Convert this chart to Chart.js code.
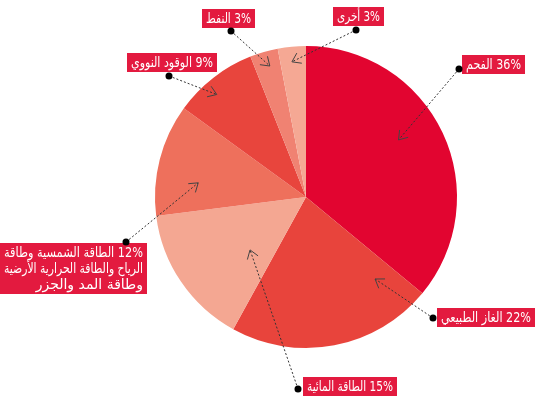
<!DOCTYPE html>
<html><head><meta charset="utf-8">
<script src="https://cdn.jsdelivr.net/npm/chart.js@4"></script>
<style>html,body{margin:0;padding:0;background:#fff;}#wrap{width:536px;height:397px;}</style>
</head><body><div id="wrap"><canvas id="c" width="536" height="397"></canvas></div>
<script>
// Data
const categories = ['الفحم','الغاز الطبيعي','الطاقة المائية','الطاقة الشمسية وطاقة الرياح والطاقة الحرارية الأرضية وطاقة المد والجزر','الوقود النووي','النفط','أخرى'];
const shares = [36, 22, 15, 12, 9, 3, 3];
const labelLines = [
  ['36% الفحم'],
  ['22% الغاز الطبيعي'],
  ['15% الطاقة المائية'],
  ['12% الطاقة الشمسية وطاقة','الرياح والطاقة الحرارية الأرضية','وطاقة المد والجزر'],
  ['9% الوقود النووي'],
  ['3% النفط'],
  ['3% أخرى']
];
const sliceColors = ['#e20530','#e8443c','#f4a792','#ee705c','#e8453d','#f08272','#f5a894'];

// Annotation layout (label box left/right/top, dot, arrow tip as arc fraction t & radius fraction f)
const boxLeft  = [462, 437, 303, 0, 127, 202, 333];
const boxRight = [525, 535, 397, 147, 217, 255, 384];
const boxTop   = [55, 308, 377, 243, 53, 9, 7];
const dots = [[459,69],[433,318],[298,389],[126,242],[169,76],[231,31],[356,30]];
const tipT = [0.45, 0.13, 0.33, 0.34, 0.40, 0.57, 0.45];
const tipF = [0.72, 0.71, 0.51, 0.72, 0.90, 0.90, 0.90];

const calloutPlugin = {
  id: 'callouts',
  afterDatasetsDraw(chart) {
    const ctx = chart.ctx;
    const arcs = chart.getDatasetMeta(0).data;
    ctx.save();
    ctx.font = '14px "DejaVu Sans", sans-serif';
    arcs.forEach((arc, i) => {
      const p = arc.getProps(['x','y','startAngle','endAngle','outerRadius'], true);
      const a = p.startAngle + (p.endAngle - p.startAngle) * tipT[i];
      const r = p.outerRadius * tipF[i];
      const tx = p.x + Math.cos(a) * r, ty = p.y + Math.sin(a) * r;
      const [dx, dy] = dots[i];
      // dashed line
      ctx.strokeStyle = '#333';
      ctx.lineWidth = 1;
      ctx.setLineDash([2, 2]);
      ctx.beginPath(); ctx.moveTo(dx, dy); ctx.lineTo(tx, ty); ctx.stroke();
      ctx.setLineDash([]);
      // open arrow head
      const ang = Math.atan2(ty - dy, tx - dx);
      const L = 10, spread = 0.6;
      ctx.strokeStyle = '#444';
      ctx.beginPath();
      ctx.moveTo(tx - L * Math.cos(ang - spread), ty - L * Math.sin(ang - spread));
      ctx.lineTo(tx, ty);
      ctx.lineTo(tx - L * Math.cos(ang + spread), ty - L * Math.sin(ang + spread));
      ctx.stroke();
      // label box
      const lines = labelLines[i];
      const lh = 16;
      const w = boxRight[i] - boxLeft[i];
      const h = lines.length === 1 ? 19 : lines.length * lh + 3;
      const x0 = boxLeft[i], y0 = boxTop[i];
      ctx.fillStyle = '#e31a3f';
      ctx.fillRect(x0, y0, w, h);
      ctx.fillStyle = '#fff';
      ctx.direction = 'rtl';
      ctx.textAlign = 'right';
      ctx.textBaseline = 'middle';
      lines.forEach((s, k) => {
        const cy = lines.length === 1 ? y0 + h / 2 + 1 : y0 + 2 + lh * k + lh / 2;
        ctx.fillText(s, boxRight[i] - 4, cy, w - 8);
      });
      ctx.direction = 'ltr';
      // dot
      ctx.fillStyle = '#000';
      ctx.beginPath(); ctx.arc(dx, dy, 3.5, 0, Math.PI * 2); ctx.fill();
    });
    ctx.restore();
  }
};

new Chart(document.getElementById('c'), {
  type: 'pie',
  data: { labels: categories, datasets: [{ data: shares, backgroundColor: sliceColors, borderWidth: 0 }] },
  options: {
    responsive: false,
    animation: false,
    layout: { padding: { left: 155, right: 79, top: 46, bottom: 49 } },
    plugins: { legend: { display: false }, tooltip: { enabled: false } }
  },
  plugins: [calloutPlugin]
});
</script></body></html>
